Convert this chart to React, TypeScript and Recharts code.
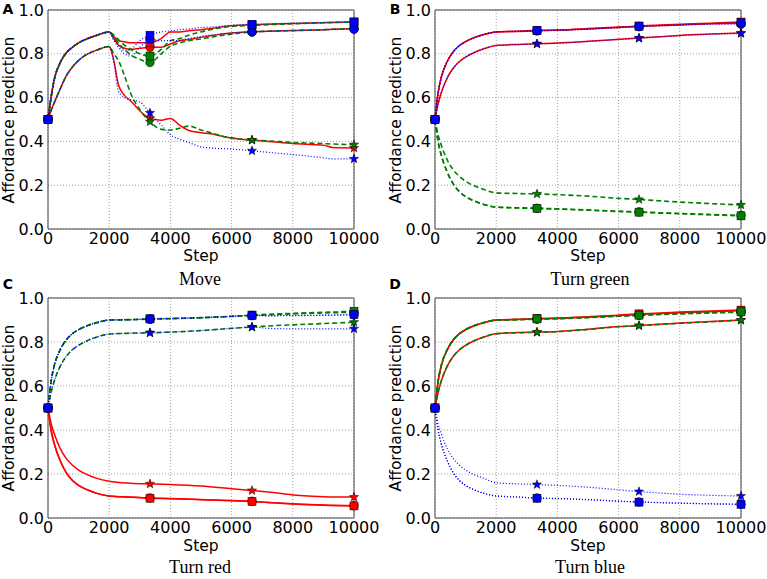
import React from "react";
import { CartesianGrid, Line, LineChart, ReferenceArea, XAxis, YAxis } from "recharts";

// x positions of the samples (Move panel needs more detail after step 2000)
const STEPS_MOVE = [0, 100, 200, 400, 600, 800, 1000, 1300, 1600, 2000, 2150, 2300, 2500, 2700, 3000, 3333, 3700, 4000, 4300, 4600, 5000, 5300, 6000, 6667, 7200, 8000, 9000, 9300, 10000];
const STEPS_SMOOTH = [0, 100, 200, 400, 600, 800, 1000, 1300, 1600, 2000, 2700, 3333, 4000, 5000, 6000, 6667, 7200, 8000, 9000, 10000];
const MARKER_STEPS = [0, 3333, 6667, 10000];
const X_TICKS = [0, 2000, 4000, 6000, 8000, 10000];
const Y_TICKS = [0, 0.2, 0.4, 0.6, 0.8, 1.0];

// A: Move
const A_RED_SQ = [0.5, 0.6, 0.68, 0.76, 0.805, 0.83, 0.85, 0.87, 0.885, 0.9, 0.88, 0.86, 0.855, 0.85, 0.85, 0.85, 0.87, 0.9, 0.9, 0.905, 0.91, 0.915, 0.928, 0.932, 0.935, 0.938, 0.942, 0.943, 0.945];
const A_RED_CI = [0.5, 0.6, 0.68, 0.76, 0.805, 0.83, 0.85, 0.87, 0.885, 0.9, 0.87, 0.84, 0.825, 0.82, 0.825, 0.83, 0.83, 0.845, 0.86, 0.865, 0.875, 0.882, 0.895, 0.9, 0.903, 0.906, 0.91, 0.912, 0.915];
const A_RED_ST = [0.5, 0.54, 0.575, 0.64, 0.7, 0.74, 0.77, 0.8, 0.817, 0.833, 0.77, 0.66, 0.61, 0.585, 0.54, 0.505, 0.497, 0.505, 0.474, 0.45, 0.44, 0.435, 0.415, 0.406, 0.4, 0.39, 0.383, 0.372, 0.37];
const A_GREEN_SQ = [0.5, 0.6, 0.68, 0.76, 0.805, 0.83, 0.85, 0.87, 0.885, 0.9, 0.885, 0.865, 0.84, 0.82, 0.8, 0.79, 0.82, 0.86, 0.87, 0.885, 0.9, 0.91, 0.925, 0.93, 0.933, 0.937, 0.942, 0.943, 0.945];
const A_GREEN_CI = [0.5, 0.6, 0.68, 0.76, 0.805, 0.83, 0.85, 0.87, 0.885, 0.9, 0.875, 0.85, 0.82, 0.795, 0.775, 0.76, 0.8, 0.835, 0.85, 0.86, 0.868, 0.875, 0.89, 0.9, 0.903, 0.906, 0.91, 0.912, 0.915];
const A_GREEN_ST = [0.5, 0.54, 0.575, 0.64, 0.7, 0.74, 0.77, 0.8, 0.817, 0.833, 0.8, 0.77, 0.7, 0.62, 0.545, 0.49, 0.455, 0.452, 0.46, 0.47, 0.452, 0.44, 0.415, 0.406, 0.402, 0.395, 0.39, 0.388, 0.385];
const A_BLUE_SQ = [0.5, 0.6, 0.68, 0.76, 0.805, 0.83, 0.85, 0.87, 0.885, 0.9, 0.87, 0.84, 0.815, 0.82, 0.86, 0.885, 0.9, 0.905, 0.91, 0.913, 0.92, 0.922, 0.93, 0.935, 0.937, 0.94, 0.943, 0.944, 0.945];
const A_BLUE_CI = [0.5, 0.6, 0.68, 0.76, 0.805, 0.83, 0.85, 0.87, 0.885, 0.9, 0.86, 0.83, 0.8, 0.79, 0.83, 0.865, 0.86, 0.86, 0.862, 0.87, 0.88, 0.885, 0.895, 0.9, 0.903, 0.906, 0.909, 0.91, 0.912];
const A_BLUE_ST = [0.5, 0.54, 0.575, 0.64, 0.7, 0.74, 0.77, 0.8, 0.817, 0.833, 0.76, 0.63, 0.6, 0.59, 0.58, 0.53, 0.475, 0.43, 0.41, 0.395, 0.375, 0.37, 0.365, 0.357, 0.35, 0.34, 0.325, 0.32, 0.32];

// B: Turn green
const B_RED_SQ = [0.5, 0.62, 0.69, 0.765, 0.81, 0.838, 0.856, 0.875, 0.888, 0.9, 0.903, 0.907, 0.909, 0.915, 0.922, 0.927, 0.93, 0.935, 0.94, 0.945];
const B_RED_CI = [0.5, 0.62, 0.69, 0.765, 0.81, 0.838, 0.856, 0.875, 0.888, 0.9, 0.902, 0.905, 0.907, 0.913, 0.92, 0.925, 0.928, 0.932, 0.937, 0.94];
const B_RED_ST = [0.5, 0.57, 0.62, 0.69, 0.735, 0.765, 0.785, 0.807, 0.823, 0.838, 0.843, 0.846, 0.849, 0.857, 0.866, 0.872, 0.877, 0.884, 0.89, 0.895];
const B_GREEN_SQ = [0.5, 0.4, 0.34, 0.26, 0.205, 0.17, 0.148, 0.127, 0.112, 0.1, 0.096, 0.094, 0.091, 0.086, 0.08, 0.077, 0.074, 0.07, 0.065, 0.06];
const B_GREEN_CI = [0.5, 0.4, 0.34, 0.26, 0.205, 0.17, 0.148, 0.127, 0.112, 0.1, 0.097, 0.095, 0.092, 0.087, 0.081, 0.078, 0.075, 0.071, 0.066, 0.062];
const B_GREEN_ST = [0.5, 0.43, 0.385, 0.315, 0.27, 0.24, 0.218, 0.196, 0.18, 0.165, 0.162, 0.16, 0.157, 0.15, 0.14, 0.135, 0.13, 0.123, 0.116, 0.11];
const B_BLUE_SQ = [0.5, 0.62, 0.69, 0.765, 0.81, 0.838, 0.856, 0.875, 0.888, 0.9, 0.903, 0.906, 0.908, 0.914, 0.921, 0.926, 0.929, 0.933, 0.938, 0.942];
const B_BLUE_CI = [0.5, 0.62, 0.69, 0.765, 0.81, 0.838, 0.856, 0.875, 0.888, 0.9, 0.902, 0.905, 0.907, 0.912, 0.919, 0.924, 0.927, 0.931, 0.935, 0.935];
const B_BLUE_ST = [0.5, 0.57, 0.62, 0.69, 0.735, 0.765, 0.785, 0.807, 0.823, 0.838, 0.842, 0.845, 0.848, 0.856, 0.865, 0.871, 0.876, 0.883, 0.889, 0.893];

// C: Turn red
const C_RED_SQ = [0.5, 0.4, 0.34, 0.26, 0.205, 0.17, 0.148, 0.127, 0.112, 0.1, 0.094, 0.09, 0.088, 0.083, 0.078, 0.075, 0.07, 0.064, 0.058, 0.055];
const C_RED_CI = [0.5, 0.4, 0.34, 0.26, 0.205, 0.17, 0.148, 0.127, 0.112, 0.1, 0.095, 0.091, 0.089, 0.084, 0.079, 0.076, 0.071, 0.065, 0.059, 0.056];
const C_RED_ST = [0.5, 0.43, 0.385, 0.315, 0.27, 0.24, 0.218, 0.196, 0.18, 0.167, 0.158, 0.155, 0.152, 0.145, 0.133, 0.125, 0.118, 0.105, 0.097, 0.095];
const C_GREEN_SQ = [0.5, 0.62, 0.69, 0.765, 0.81, 0.838, 0.856, 0.875, 0.888, 0.9, 0.902, 0.905, 0.907, 0.911, 0.917, 0.922, 0.926, 0.93, 0.935, 0.94];
const C_GREEN_CI = [0.5, 0.62, 0.69, 0.765, 0.81, 0.838, 0.856, 0.875, 0.888, 0.9, 0.901, 0.904, 0.906, 0.91, 0.916, 0.92, 0.924, 0.928, 0.932, 0.935];
const C_GREEN_ST = [0.5, 0.57, 0.62, 0.69, 0.735, 0.765, 0.785, 0.807, 0.823, 0.836, 0.84, 0.842, 0.845, 0.852, 0.862, 0.868, 0.873, 0.878, 0.884, 0.89];
const C_BLUE_SQ = [0.5, 0.62, 0.69, 0.765, 0.81, 0.838, 0.856, 0.875, 0.888, 0.9, 0.902, 0.905, 0.907, 0.911, 0.917, 0.922, 0.92, 0.921, 0.922, 0.925];
const C_BLUE_CI = [0.5, 0.62, 0.69, 0.765, 0.81, 0.838, 0.856, 0.875, 0.888, 0.9, 0.901, 0.904, 0.906, 0.91, 0.916, 0.921, 0.919, 0.92, 0.921, 0.924];
const C_BLUE_ST = [0.5, 0.57, 0.62, 0.69, 0.735, 0.765, 0.785, 0.807, 0.823, 0.836, 0.84, 0.842, 0.845, 0.852, 0.862, 0.868, 0.862, 0.86, 0.86, 0.86];

// D: Turn blue
const D_RED_SQ = [0.5, 0.62, 0.69, 0.765, 0.81, 0.838, 0.856, 0.875, 0.888, 0.9, 0.903, 0.907, 0.909, 0.915, 0.922, 0.928, 0.931, 0.936, 0.941, 0.945];
const D_RED_CI = [0.5, 0.62, 0.69, 0.765, 0.81, 0.838, 0.856, 0.875, 0.888, 0.9, 0.902, 0.905, 0.907, 0.913, 0.92, 0.925, 0.928, 0.933, 0.938, 0.942];
const D_RED_ST = [0.5, 0.57, 0.62, 0.69, 0.735, 0.765, 0.785, 0.807, 0.823, 0.838, 0.843, 0.845, 0.848, 0.858, 0.87, 0.875, 0.88, 0.886, 0.893, 0.9];
const D_GREEN_SQ = [0.5, 0.62, 0.69, 0.765, 0.81, 0.838, 0.856, 0.875, 0.888, 0.9, 0.902, 0.905, 0.907, 0.912, 0.918, 0.922, 0.925, 0.929, 0.933, 0.937];
const D_GREEN_CI = [0.5, 0.62, 0.69, 0.765, 0.81, 0.838, 0.856, 0.875, 0.888, 0.9, 0.901, 0.904, 0.906, 0.911, 0.917, 0.921, 0.924, 0.928, 0.932, 0.935];
const D_GREEN_ST = [0.5, 0.57, 0.62, 0.69, 0.735, 0.765, 0.785, 0.807, 0.823, 0.838, 0.842, 0.844, 0.847, 0.857, 0.869, 0.874, 0.879, 0.885, 0.892, 0.899];
const D_BLUE_SQ = [0.5, 0.4, 0.34, 0.26, 0.205, 0.17, 0.148, 0.127, 0.112, 0.1, 0.095, 0.09, 0.088, 0.083, 0.076, 0.072, 0.07, 0.067, 0.064, 0.062];
const D_BLUE_CI = [0.5, 0.4, 0.34, 0.26, 0.205, 0.17, 0.148, 0.127, 0.112, 0.1, 0.096, 0.091, 0.089, 0.084, 0.077, 0.073, 0.071, 0.068, 0.065, 0.063];
const D_BLUE_ST = [0.5, 0.43, 0.385, 0.315, 0.27, 0.24, 0.218, 0.196, 0.18, 0.16, 0.155, 0.152, 0.148, 0.14, 0.128, 0.12, 0.115, 0.108, 0.103, 0.1];

const RED = "#ff0000";
const GREEN = "#007f00";
const BLUE = "#0000ff";

type Shape = "square" | "circle" | "star";

// draw order: red, green, blue; star, circle, square within a colour
const SERIES: { key: string; color: string; shape: Shape; dash?: string; width: number }[] = [
  { key: "rt", color: RED, shape: "star", width: 1.5 },
  { key: "rc", color: RED, shape: "circle", width: 1.5 },
  { key: "rs", color: RED, shape: "square", width: 1.5 },
  { key: "gt", color: GREEN, shape: "star", dash: "5 3", width: 1.6 },
  { key: "gc", color: GREEN, shape: "circle", dash: "5 3", width: 1.6 },
  { key: "gs", color: GREEN, shape: "square", dash: "5 3", width: 1.6 },
  { key: "bt", color: BLUE, shape: "star", dash: "1 2", width: 1.2 },
  { key: "bc", color: BLUE, shape: "circle", dash: "1 2", width: 1.2 },
  { key: "bs", color: BLUE, shape: "square", dash: "1 2", width: 1.2 },
];

function buildRows(steps: number[], s: Record<string, number[]>) {
  return steps.map((step, i) => {
    const row: Record<string, number> = { step };
    Object.keys(s).forEach((k) => (row[k] = s[k][i]));
    return row;
  });
}

const MOVE_ROWS = buildRows(STEPS_MOVE, { rs: A_RED_SQ, rc: A_RED_CI, rt: A_RED_ST, gs: A_GREEN_SQ, gc: A_GREEN_CI, gt: A_GREEN_ST, bs: A_BLUE_SQ, bc: A_BLUE_CI, bt: A_BLUE_ST });
const GREEN_ROWS = buildRows(STEPS_SMOOTH, { rs: B_RED_SQ, rc: B_RED_CI, rt: B_RED_ST, gs: B_GREEN_SQ, gc: B_GREEN_CI, gt: B_GREEN_ST, bs: B_BLUE_SQ, bc: B_BLUE_CI, bt: B_BLUE_ST });
const RED_ROWS = buildRows(STEPS_SMOOTH, { rs: C_RED_SQ, rc: C_RED_CI, rt: C_RED_ST, gs: C_GREEN_SQ, gc: C_GREEN_CI, gt: C_GREEN_ST, bs: C_BLUE_SQ, bc: C_BLUE_CI, bt: C_BLUE_ST });
const BLUE_ROWS = buildRows(STEPS_SMOOTH, { rs: D_RED_SQ, rc: D_RED_CI, rt: D_RED_ST, gs: D_GREEN_SQ, gc: D_GREEN_CI, gt: D_GREEN_ST, bs: D_BLUE_SQ, bc: D_BLUE_CI, bt: D_BLUE_ST });

function starPath(cx: number, cy: number, ro: number, ri: number) {
  let d = "";
  for (let i = 0; i < 10; i++) {
    const r = i % 2 === 0 ? ro : ri;
    const a = -Math.PI / 2 + (i * Math.PI) / 5;
    d += `${i === 0 ? "M" : "L"}${cx + r * Math.cos(a)},${cy + r * Math.sin(a)}`;
  }
  return d + "Z";
}

function marker(shape: Shape, color: string) {
  return (props: any) => {
    const { cx, cy, payload, index } = props;
    const k = `m-${index}`;
    if (cx == null || cy == null || !MARKER_STEPS.includes(payload.step)) return <g key={k} />;
    if (shape === "square")
      return <rect key={k} x={cx - 4} y={cy - 4} width={8} height={8} fill={color} stroke="#000" strokeWidth={0.5} />;
    if (shape === "circle") return <circle key={k} cx={cx} cy={cy} r={4.3} fill={color} stroke="#000" strokeWidth={0.5} />;
    return <path key={k} d={starPath(cx, cy, 4.8, 2)} fill={color} stroke="#000" strokeWidth={0.5} />;
  };
}

const tickStyle = { fill: "#000", fontSize: 16, fontFamily: "DejaVu Sans" };

function Panel(p: {
  rows: Record<string, number>[];
  left: number;
  top: number;
  width: number;
  height: number;
  plotLeft: number;
  plotTop: number;
  plotRight: number;
  plotBottom: number;
}) {
  const margin = {
    top: p.plotTop - p.top,
    right: p.left + p.width - p.plotRight,
    left: 0,
    bottom: p.top + p.height - p.plotBottom - 30,
  };
  return (
    <div style={{ position: "absolute", left: p.left, top: p.top }}>
      <LineChart width={p.width} height={p.height} data={p.rows} margin={margin}>
        <CartesianGrid stroke="#a0a0a0" strokeDasharray="1 2" />
        <XAxis
          dataKey="step"
          type="number"
          domain={[0, 10000]}
          ticks={X_TICKS}
          interval={0}
          height={30}
          tickSize={0}
          tickMargin={4}
          axisLine={false}
          tick={tickStyle}
        />
        <YAxis
          type="number"
          domain={[0, 1]}
          ticks={Y_TICKS}
          interval={0}
          width={p.plotLeft - p.left}
          tickSize={0}
          tickMargin={4}
          axisLine={false}
          tick={tickStyle}
          tickFormatter={(v: number) => v.toFixed(1)}
        />
        {SERIES.map((s) => (
          <Line
            key={s.key}
            dataKey={s.key}
            type="monotone"
            stroke={s.color}
            strokeWidth={s.width}
            strokeDasharray={s.dash}
            dot={marker(s.shape, s.color)}
            activeDot={false}
            isAnimationActive={false}
          />
        ))}
        <ReferenceArea x1={0} x2={10000} y1={0} y2={1} fill="none" stroke="#444" strokeWidth={1} ifOverflow="visible" />
      </LineChart>
    </div>
  );
}

const centered = (x: number, y: number, extra: React.CSSProperties = {}): React.CSSProperties => ({
  position: "absolute",
  left: x,
  top: y,
  transform: "translate(-50%, -50%)",
  whiteSpace: "nowrap",
  lineHeight: 1,
  ...extra,
});

const sans: React.CSSProperties = { fontFamily: "DejaVu Sans", fontSize: 15.5, color: "#000" };
const letter: React.CSSProperties = { fontFamily: "DejaVu Sans", fontSize: 14, fontWeight: "bold", color: "#000" };
const serif: React.CSSProperties = { fontFamily: "Liberation Serif", fontSize: 18, color: "#000" };
const rotated = { ...sans, transform: "translate(-50%, -50%) rotate(-90deg)" };

export default function App() {
  return (
    <div style={{ position: "absolute", left: 0, top: 0, width: 767, height: 579, background: "#fff", overflow: "hidden" }}>
      <Panel rows={MOVE_ROWS} left={0} top={0} width={384} height={290} plotLeft={48} plotTop={10} plotRight={354} plotBottom={229} />
      <Panel rows={GREEN_ROWS} left={384} top={0} width={383} height={290} plotLeft={435} plotTop={10} plotRight={741} plotBottom={229} />
      <Panel rows={RED_ROWS} left={0} top={290} width={384} height={289} plotLeft={48} plotTop={298} plotRight={354} plotBottom={518} />
      <Panel rows={BLUE_ROWS} left={384} top={290} width={383} height={289} plotLeft={435} plotTop={298} plotRight={741} plotBottom={518} />

      <div style={centered(8, 9, letter)}>A</div>
      <div style={centered(395, 9, letter)}>B</div>
      <div style={centered(8, 284, letter)}>C</div>
      <div style={centered(395, 284, letter)}>D</div>

      <div style={centered(10, 120, rotated)}>Affordance prediction</div>
      <div style={centered(397, 120, rotated)}>Affordance prediction</div>
      <div style={centered(10, 408, rotated)}>Affordance prediction</div>
      <div style={centered(397, 408, rotated)}>Affordance prediction</div>

      <div style={centered(201, 257, sans)}>Step</div>
      <div style={centered(588, 257, sans)}>Step</div>
      <div style={centered(201, 547, sans)}>Step</div>
      <div style={centered(588, 547, sans)}>Step</div>

      <div style={centered(200, 279, serif)}>Move</div>
      <div style={centered(590, 279, serif)}>Turn green</div>
      <div style={centered(200, 567, serif)}>Turn red</div>
      <div style={centered(590, 567, serif)}>Turn blue</div>
    </div>
  );
}
